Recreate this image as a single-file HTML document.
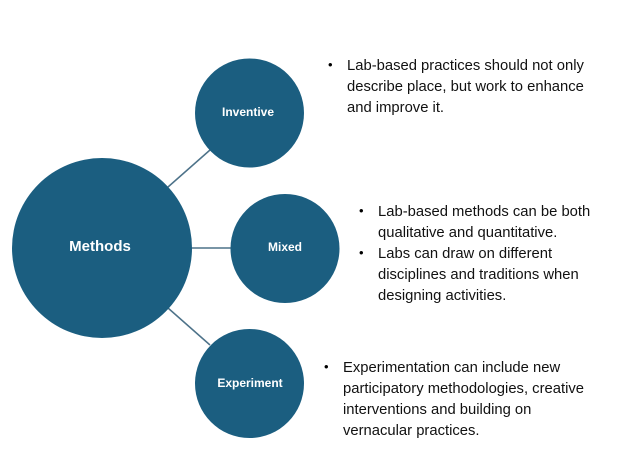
<!DOCTYPE html>
<html><head><style>
body{margin:0;width:631px;height:472px;background:#fff;overflow:hidden;position:relative;font-family:"Liberation Sans",sans-serif}
.t{position:absolute;font-size:14.8px;line-height:21px;color:#111}
.b{position:absolute;font-size:13px}
</style></head><body>
<svg width="631" height="472" style="position:absolute;left:0;top:0">
<g stroke="#4d7289" stroke-width="1.5">
<line x1="168" y1="187" x2="210" y2="150"/>
<line x1="192" y1="248" x2="232" y2="248"/>
<line x1="168" y1="308" x2="210" y2="345"/>
</g>
<g fill="#1b5e80">
<circle cx="102" cy="248" r="90"/>
<circle cx="249.5" cy="113" r="54.5"/>
<circle cx="285" cy="248.5" r="54.5"/>
<circle cx="249.5" cy="383.5" r="54.5"/>
</g>
<g fill="#fff" font-family="Liberation Sans, sans-serif" text-anchor="middle" font-weight="bold">
<text x="100" y="251" font-size="15">Methods</text>
<text x="248" y="116" font-size="12">Inventive</text>
<text x="285" y="251" font-size="12">Mixed</text>
<text x="250" y="387" font-size="12">Experiment</text>
</g>
</svg>
<div class="b" style="left:328px;top:57px">•</div>
<div class="t" style="left:347px;top:56px">Lab-based practices should not only<br>describe place, but work to enhance<br>and improve it.</div>
<div class="b" style="left:359px;top:203px">•</div>
<div class="t" style="left:378px;top:202px">Lab-based methods can be both<br>qualitative and quantitative.</div>
<div class="b" style="left:359px;top:245px">•</div>
<div class="t" style="left:378px;top:244px">Labs can draw on different<br>disciplines and traditions when<br>designing activities.</div>
<div class="b" style="left:324px;top:359px">•</div>
<div class="t" style="left:343px;top:358px">Experimentation can include new<br>participatory methodologies, creative<br>interventions and building on<br>vernacular practices.</div>
</body></html>
